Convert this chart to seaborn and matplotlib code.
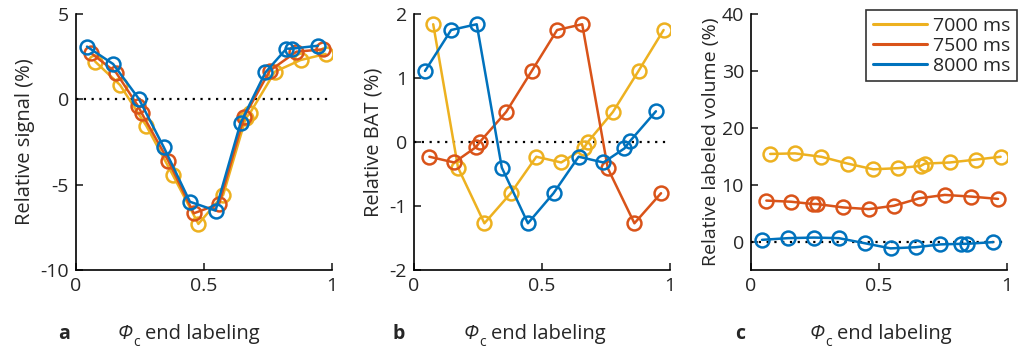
import numpy as np
import pandas as pd
import seaborn as sns
import matplotlib.pyplot as plt
from matplotlib.lines import Line2D

# phase at end of labeling, one list per TR
x_7000 = [0.075, 0.172, 0.275, 0.378, 0.478, 0.575, 0.663, 0.679, 0.777, 0.877, 0.975]
x_7500 = [0.060, 0.157, 0.242, 0.257, 0.360, 0.460, 0.559, 0.657, 0.757, 0.861, 0.965]
x_8000 = [0.043, 0.145, 0.245, 0.343, 0.445, 0.545, 0.643, 0.740, 0.822, 0.843, 0.945]

# a: relative signal (%)
sig_7000 = [2.21, 0.84, -1.56, -4.43, -7.30, -5.60, -1.10, -0.82, 1.62, 2.30, 2.66]
sig_7500 = [2.70, 1.56, -0.39, -0.82, -3.59, -6.68, -6.13, -1.02, 1.68, 2.79, 2.93]
sig_8000 = [3.09, 2.07, 0.04, -2.81, -6.00, -6.52, -1.37, 1.58, 2.97, 2.97, 3.14]

# b: relative BAT (%)
bat_7000 = [1.84, -0.40, -1.27, -0.80, -0.23, -0.32, -0.10, 0.00, 0.47, 1.11, 1.75]
bat_7500 = [-0.23, -0.32, -0.08, 0.00, 0.47, 1.11, 1.75, 1.84, -0.41, -1.27, -0.80]
bat_8000 = [1.11, 1.75, 1.84, -0.40, -1.27, -0.80, -0.23, -0.32, -0.10, 0.01, 0.48]

# c: relative labeled volume (%)
vol_7000 = [15.4, 15.5, 14.9, 13.7, 12.7, 12.9, 13.3, 13.7, 13.9, 14.4, 14.9]
vol_7500 = [7.2, 7.0, 6.6, 6.6, 6.0, 5.7, 6.3, 7.6, 8.2, 7.9, 7.5]
vol_8000 = [0.3, 0.6, 0.7, 0.6, -0.3, -1.2, -1.0, -0.5, -0.4, -0.4, -0.1]

labels = ['7000 ms', '7500 ms', '8000 ms']
colors = ['#EDB120', '#D95319', '#0072BD']
xs = [x_7000, x_7500, x_8000]

panels = [
    ([sig_7000, sig_7500, sig_8000], 'Relative signal (%)', (-10, 5), [-10, -5, 0, 5], 'a'),
    ([bat_7000, bat_7500, bat_8000], 'Relative BAT (%)', (-2, 2), [-2, -1, 0, 1, 2], 'b'),
    ([vol_7000, vol_7500, vol_8000], 'Relative labeled volume (%)', (-5, 40), [0, 10, 20, 30, 40], 'c'),
]

sns.set_style('white')
plt.rcParams['font.family'] = ['Open Sans', 'DejaVu Sans']
plt.rcParams['axes.unicode_minus'] = False

W, H = 1020, 350
fig = plt.figure(figsize=(W / 100, H / 100), dpi=100)
lefts = [76, 414, 751]
letter_x = [58, 393, 735]
phi_x = [118, 464, 810]
ylab_size = [14.5, 14.5, 14]
for i, ((ys, ylab, ylim, yticks, letter), left) in enumerate(zip(panels, lefts)):
    ax = fig.add_axes([left / W, 80 / H, 256 / W, 256 / H])
    ax.axhline(0, color='black', ls=(0, (1, 2.5)), lw=1.6, xmax=0.99, zorder=1)
    for x, y, c in zip(xs, ys, colors):
        df = pd.DataFrame({'x': x, 'y': y})
        sns.lineplot(data=df, x='x', y='y', ax=ax, color=c, sort=False,
                     estimator=None, lw=1.8, marker='o', ms=10,
                     mfc='none', mec=c, mew=1.8, zorder=3)
    ax.set_xlim(0, 1)
    ax.set_ylim(*ylim)
    ax.set_xticks([0, 0.5, 1])
    ax.set_xticklabels(['0', '0.5', '1'])
    ax.set_yticks(yticks)
    ax.set_xlabel('')
    ax.set_ylabel(ylab, fontsize=ylab_size[i], labelpad=4 if i < 2 else 1)
    ax.tick_params(direction='in', length=5, width=1.2, labelsize=14,
                   left=True, bottom=True, pad=5)
    sns.despine(ax=ax)
    for s in ['left', 'bottom']:
        ax.spines[s].set_color('black')
        ax.spines[s].set_linewidth(1.2)

    # panel letter and x label (italic Phi with subscript c)
    base = 11 / H
    fig.text(letter_x[i] / W, base, letter, fontsize=14, fontweight='bold',
             ha='left', va='baseline')
    fig.text(phi_x[i] / W, base, 'Φ', fontsize=14.5, style='italic',
             ha='left', va='baseline')
    fig.text((phi_x[i] + 15) / W, 4 / H, 'c', fontsize=10,
             ha='left', va='baseline')
    fig.text((phi_x[i] + 27) / W, base, 'end labeling', fontsize=14.5,
             ha='left', va='baseline')

    if letter == 'c':
        handles = [Line2D([], [], color=c, lw=2.2) for c in colors]
        leg = ax.legend(handles, labels, loc='upper right', fontsize=14,
                        frameon=True, fancybox=False, edgecolor='black',
                        bbox_to_anchor=(1.039, 1.016), borderaxespad=0,
                        handlelength=2.8, handletextpad=0.3,
                        borderpad=0.35, labelspacing=0.1)
        leg.get_frame().set_linewidth(1.2)

fig.savefig('out.png', dpi=100)
